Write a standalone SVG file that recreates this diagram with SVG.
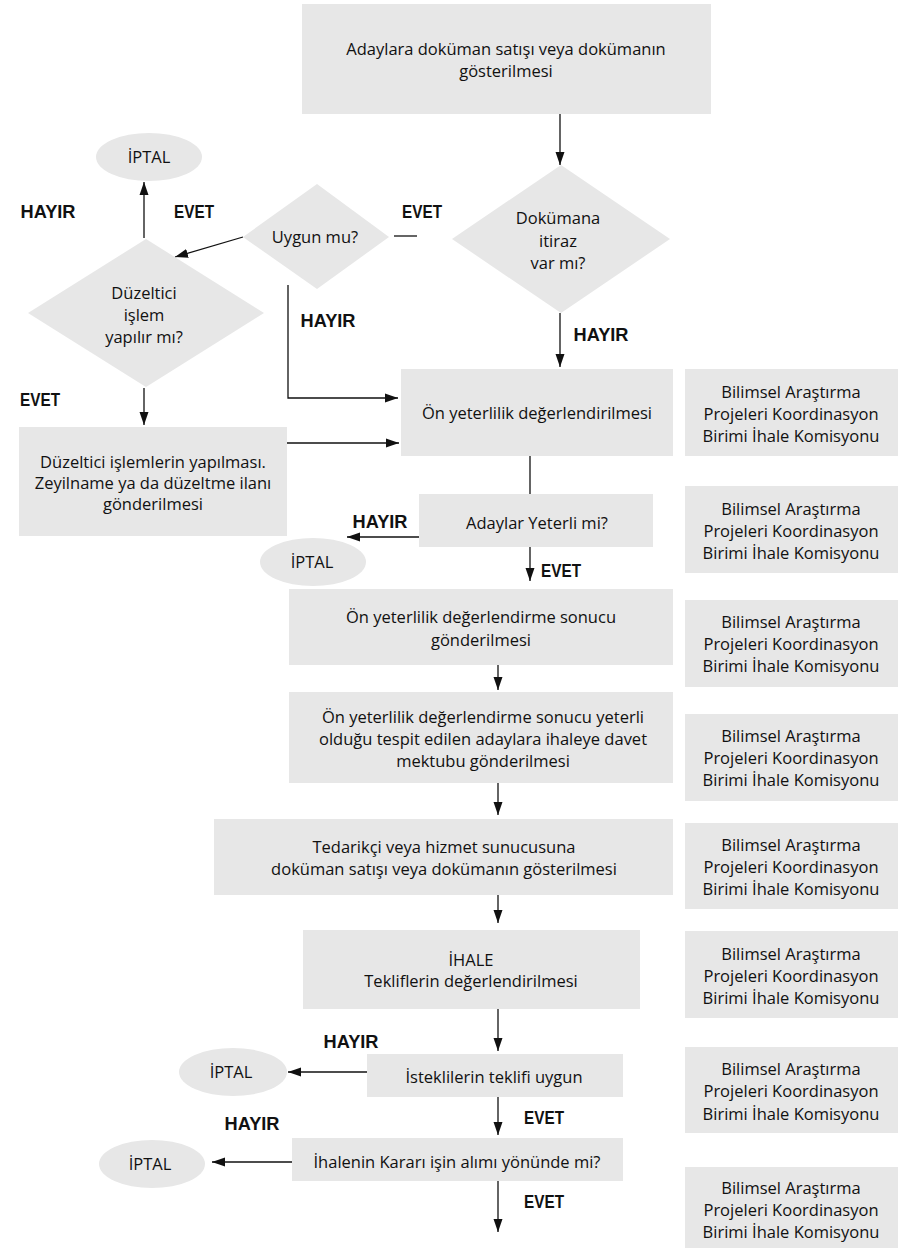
<svg xmlns="http://www.w3.org/2000/svg" width="903" height="1249" viewBox="0 0 903 1249">
<style>
.b{fill:#e7e7e7;stroke:none}
.t{font-family:"Open Sans","Liberation Sans",sans-serif;font-size:16.5px;fill:#111;text-anchor:middle}
.l{font-family:"Liberation Sans",Arial,sans-serif;font-size:18px;font-weight:bold;fill:#111;text-anchor:middle}
.c{stroke:#111;stroke-width:1.3;fill:none}
.a{marker-end:url(#ah)}
</style>
<defs>
<marker id="ah" markerUnits="userSpaceOnUse" markerWidth="14" markerHeight="10" refX="13" refY="5" orient="auto">
<path d="M0,0.5 L13,5 L0,9.5 Z" fill="#111"/>
</marker>
</defs>
<rect width="903" height="1249" fill="#fff"/>

<g id="connectors">
<line class="c a" x1="560" y1="114" x2="560" y2="165"/>
<line class="c" x1="394" y1="236" x2="417" y2="236"/>
<line class="c a" x1="243" y1="237" x2="175" y2="257"/>
<line class="c a" x1="144" y1="238" x2="144" y2="182"/>
<polyline class="c a" points="288,285 288,398 398,398"/>
<line class="c a" x1="560" y1="313" x2="560" y2="367"/>
<line class="c a" x1="144" y1="388" x2="144" y2="425"/>
<line class="c a" x1="287" y1="443" x2="399" y2="443"/>
<line class="c" x1="530" y1="456" x2="530" y2="494"/>
<line class="c a" x1="419" y1="537" x2="347" y2="537"/>
<line class="c a" x1="530" y1="547" x2="530" y2="581"/>
<line class="c a" x1="498" y1="665" x2="498" y2="690"/>
<line class="c a" x1="498" y1="783" x2="498" y2="815"/>
<line class="c a" x1="498" y1="895" x2="498" y2="923"/>
<line class="c a" x1="498" y1="1009" x2="498" y2="1051"/>
<line class="c a" x1="367" y1="1072" x2="288" y2="1072"/>
<line class="c a" x1="498" y1="1097" x2="498" y2="1135"/>
<line class="c a" x1="292" y1="1162" x2="212" y2="1162"/>
<line class="c a" x1="498" y1="1181" x2="498" y2="1232"/>
</g>

<g id="n-start">
<rect class="b" x="302" y="4" width="409" height="110"/>
<text class="t" x="506" y="55">Adaylara doküman satışı veya dokümanın</text>
<text class="t" x="506" y="77">gösterilmesi</text>
</g>

<g id="d-itiraz">
<polygon class="b" points="561,165 670,239 561,313 452,239"/>
<text class="t" x="558" y="224">Dokümana</text>
<text class="t" x="558" y="247">itiraz</text>
<text class="t" x="558" y="269">var mı?</text>
</g>

<g id="d-uygun">
<polygon class="b" points="317,184 389,237 317,289 243,237"/>
<text class="t" x="315" y="243">Uygun mu?</text>
</g>

<g id="d-duzeltici">
<polygon class="b" points="146,239 264,313 146,387 28,313"/>
<text class="t" x="144" y="299">Düzeltici</text>
<text class="t" x="144" y="321">işlem</text>
<text class="t" x="144" y="343">yapılır mı?</text>
</g>

<g id="e-iptal1">
<ellipse class="b" cx="149" cy="157" rx="53" ry="24"/>
<text class="t" x="149" y="163">İPTAL</text>
</g>

<g id="n-onyeterlilik">
<rect class="b" x="401" y="369" width="272" height="87"/>
<text class="t" x="537" y="419">Ön yeterlilik değerlendirilmesi</text>
</g>

<g id="n-duzeltme">
<rect class="b" x="19" y="427" width="268" height="109"/>
<text class="t" x="153" y="468">Düzeltici işlemlerin yapılması.</text>
<text class="t" x="153" y="489">Zeyilname ya da düzeltme ilanı</text>
<text class="t" x="153" y="510">gönderilmesi</text>
</g>

<g id="n-yeterli">
<rect class="b" x="419" y="494" width="234" height="53"/>
<text class="t" x="537" y="529">Adaylar Yeterli mi?</text>
</g>

<g id="e-iptal2">
<ellipse class="b" cx="313" cy="562" rx="53" ry="24"/>
<text class="t" x="312" y="568">İPTAL</text>
</g>

<g id="n-sonuc">
<rect class="b" x="289" y="589" width="384" height="76"/>
<text class="t" x="481" y="623">Ön yeterlilik değerlendirme sonucu</text>
<text class="t" x="481" y="646">gönderilmesi</text>
</g>

<g id="n-davet">
<rect class="b" x="289" y="692" width="384" height="91"/>
<text class="t" x="483" y="723">Ön yeterlilik değerlendirme sonucu yeterli</text>
<text class="t" x="483" y="745">olduğu tespit edilen adaylara ihaleye davet</text>
<text class="t" x="483" y="767">mektubu gönderilmesi</text>
</g>

<g id="n-tedarikci">
<rect class="b" x="214" y="819" width="459" height="76"/>
<text class="t" x="444" y="853">Tedarikçi veya hizmet sunucusuna</text>
<text class="t" x="444" y="875">doküman satışı veya dokümanın gösterilmesi</text>
</g>

<g id="n-ihale">
<rect class="b" x="303" y="930" width="337" height="79"/>
<text class="t" x="471" y="966">İHALE</text>
<text class="t" x="471" y="987">Tekliflerin değerlendirilmesi</text>
</g>

<g id="n-istekli">
<rect class="b" x="367" y="1054" width="256" height="43"/>
<text class="t" x="494" y="1083">İsteklilerin teklifi uygun</text>
</g>

<g id="e-iptal3">
<ellipse class="b" cx="233" cy="1072" rx="54" ry="24"/>
<text class="t" x="231" y="1078">İPTAL</text>
</g>

<g id="n-karar">
<rect class="b" x="292" y="1138" width="331" height="43"/>
<text class="t" x="457" y="1168">İhalenin Kararı işin alımı yönünde mi?</text>
</g>

<g id="e-iptal4">
<ellipse class="b" cx="152" cy="1164" rx="53" ry="24"/>
<text class="t" x="150" y="1170">İPTAL</text>
</g>

<g id="r1"><rect class="b" x="685" y="369" width="213" height="87"/>
<text class="t" x="791" y="398">Bilimsel Araştırma</text><text class="t" x="791" y="420">Projeleri Koordinasyon</text><text class="t" x="791" y="442">Birimi İhale Komisyonu</text></g>
<g id="r2"><rect class="b" x="685" y="486" width="213" height="87"/>
<text class="t" x="791" y="515">Bilimsel Araştırma</text><text class="t" x="791" y="537">Projeleri Koordinasyon</text><text class="t" x="791" y="559">Birimi İhale Komisyonu</text></g>
<g id="r3"><rect class="b" x="685" y="600" width="213" height="87"/>
<text class="t" x="791" y="628">Bilimsel Araştırma</text><text class="t" x="791" y="650">Projeleri Koordinasyon</text><text class="t" x="791" y="672">Birimi İhale Komisyonu</text></g>
<g id="r4"><rect class="b" x="685" y="714" width="213" height="87"/>
<text class="t" x="791" y="742">Bilimsel Araştırma</text><text class="t" x="791" y="764">Projeleri Koordinasyon</text><text class="t" x="791" y="786">Birimi İhale Komisyonu</text></g>
<g id="r5"><rect class="b" x="685" y="823" width="213" height="86"/>
<text class="t" x="791" y="851">Bilimsel Araştırma</text><text class="t" x="791" y="873">Projeleri Koordinasyon</text><text class="t" x="791" y="895">Birimi İhale Komisyonu</text></g>
<g id="r6"><rect class="b" x="685" y="931" width="213" height="87"/>
<text class="t" x="791" y="960">Bilimsel Araştırma</text><text class="t" x="791" y="982">Projeleri Koordinasyon</text><text class="t" x="791" y="1004">Birimi İhale Komisyonu</text></g>
<g id="r7"><rect class="b" x="685" y="1047" width="213" height="86"/>
<text class="t" x="791" y="1075">Bilimsel Araştırma</text><text class="t" x="791" y="1097">Projeleri Koordinasyon</text><text class="t" x="791" y="1120">Birimi İhale Komisyonu</text></g>
<g id="r8"><rect class="b" x="685" y="1167" width="213" height="81"/>
<text class="t" x="791" y="1194">Bilimsel Araştırma</text><text class="t" x="791" y="1216">Projeleri Koordinasyon</text><text class="t" x="791" y="1238">Birimi İhale Komisyonu</text></g>

<g id="labels">
<text class="l" x="48" y="218" textLength="55" lengthAdjust="spacingAndGlyphs">HAYIR</text>
<text class="l" x="194" y="218" textLength="40" lengthAdjust="spacingAndGlyphs">EVET</text>
<text class="l" x="422" y="218" textLength="40" lengthAdjust="spacingAndGlyphs">EVET</text>
<text class="l" x="328" y="327" textLength="55" lengthAdjust="spacingAndGlyphs">HAYIR</text>
<text class="l" x="601" y="341" textLength="55" lengthAdjust="spacingAndGlyphs">HAYIR</text>
<text class="l" x="40" y="406" textLength="40" lengthAdjust="spacingAndGlyphs">EVET</text>
<text class="l" x="380" y="528" textLength="55" lengthAdjust="spacingAndGlyphs">HAYIR</text>
<text class="l" x="561" y="577" textLength="40" lengthAdjust="spacingAndGlyphs">EVET</text>
<text class="l" x="351" y="1048" textLength="55" lengthAdjust="spacingAndGlyphs">HAYIR</text>
<text class="l" x="544" y="1124" textLength="40" lengthAdjust="spacingAndGlyphs">EVET</text>
<text class="l" x="252" y="1130" textLength="55" lengthAdjust="spacingAndGlyphs">HAYIR</text>
<text class="l" x="544" y="1208" textLength="40" lengthAdjust="spacingAndGlyphs">EVET</text>
</g>
</svg>
